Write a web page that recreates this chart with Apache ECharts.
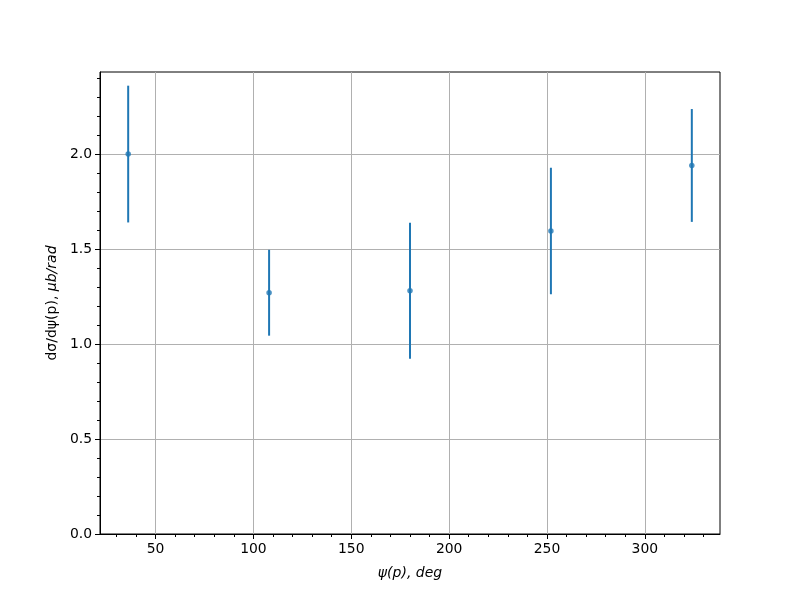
<!DOCTYPE html>
<html>
<head>
<meta charset="utf-8">
<script src="https://cdn.jsdelivr.net/npm/echarts@6/dist/echarts.min.js"></script>
<style>html,body{margin:0;padding:0;background:#fff}#c{width:800px;height:600px}</style>
</head>
<body>
<div id="c"></div>
<script>
const psi = [36, 108, 180, 252, 324];
const dsigma = [2.00, 1.27, 1.28, 1.595, 1.94];
const errs = [0.36, 0.226, 0.358, 0.333, 0.297];
const xLimits = [21.6, 338.4];
const yLimits = [0, 2.432];
const xTicks = [50, 100, 150, 200, 250, 300];
const yTicks = [0, 0.5, 1.0, 1.5, 2.0];

const color = '#1f77b4';
const font = 'DejaVu Sans';
const pts = psi.map((x, i) => [x, dsigma[i]]);
const bars = psi.map((x, i) => [x, dsigma[i] - errs[i], dsigma[i] + errs[i]]);

const chart = echarts.init(document.getElementById('c'), null, {renderer: 'canvas'});
chart.setOption({
  animation: false,
  backgroundColor: '#fff',
  grid: {left: 100, right: 80, top: 72, bottom: 66, show: true, borderColor: '#000', borderWidth: 1, backgroundColor: 'transparent'},
  xAxis: {
    type: 'value', min: xLimits[0], max: xLimits[1],
    name: 'ψ(p), deg', nameLocation: 'middle', nameGap: 32,
    nameTextStyle: {fontFamily: font, fontSize: 14, fontStyle: 'italic', color: '#000'},
    axisLine: {show: true, onZero: false, lineStyle: {color: '#000', width: 1}},
    axisTick: {show: true, length: 5, customValues: xTicks, lineStyle: {color: '#000', width: 1}},
    minorTick: {show: true, splitNumber: 5, length: 3, lineStyle: {color: '#000', width: 1}},
    axisLabel: {customValues: xTicks, showMinLabel: true, showMaxLabel: true, margin: 8, fontFamily: font, fontSize: 13.9, color: '#000'},
    splitLine: {show: true, lineStyle: {color: '#b0b0b0', width: 1}},
    minorSplitLine: {show: false}
  },
  yAxis: {
    type: 'value', min: yLimits[0], max: yLimits[1],
    name: '{n|dσ/dψ(p),} {i|μb/rad}', nameLocation: 'middle', nameGap: 41, nameRotate: 90,
    nameTextStyle: {fontFamily: font, fontSize: 14, color: '#000',
      rich: {n: {fontFamily: font, fontSize: 14, color: '#000'}, i: {fontFamily: font, fontSize: 14, fontStyle: 'italic', color: '#000'}}},
    axisLine: {show: true, onZero: false, lineStyle: {color: '#000', width: 1}},
    axisTick: {show: true, length: 5, customValues: yTicks, lineStyle: {color: '#000', width: 1}},
    minorTick: {show: true, splitNumber: 5, length: 3, lineStyle: {color: '#000', width: 1}},
    axisLabel: {customValues: yTicks, showMinLabel: true, showMaxLabel: true, margin: 8, fontFamily: font, fontSize: 13.9, color: '#000',
      formatter: v => v.toFixed(1)},
    splitLine: {show: true, lineStyle: {color: '#b0b0b0', width: 1}},
    minorSplitLine: {show: false}
  },
  series: [
    {
      type: 'custom',
      data: bars,
      clip: true,
      renderItem: function (params, api) {
        const lo = api.coord([api.value(0), api.value(1)]);
        const hi = api.coord([api.value(0), api.value(2)]);
        return {type: 'line', shape: {x1: lo[0], y1: lo[1], x2: hi[0], y2: hi[1]},
          style: {stroke: color, lineWidth: 2}};
      },
      encode: {x: 0, y: [1, 2]},
      z: 3
    },
    {
      type: 'scatter', data: pts, symbol: 'circle', symbolSize: 5.5,
      itemStyle: {color: color}, z: 4
    }
  ]
});
</script>
</body>
</html>
